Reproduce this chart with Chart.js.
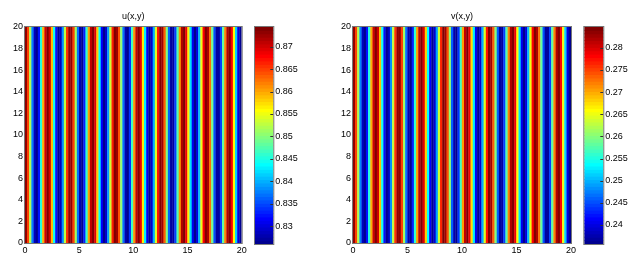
<!DOCTYPE html>
<html>
<head>
<meta charset="utf-8">
<script src="https://cdn.jsdelivr.net/npm/chart.js@4.4.1/dist/chart.umd.min.js"></script>
<style>
  body { margin: 0; background: #fff; width: 641px; height: 263px; overflow: hidden; position: relative; }
  .panel { position: absolute; top: 0; height: 263px; }
</style>
</head>
<body>
<div class="panel" style="left:0px;width:250px"><canvas id="uMap"></canvas></div>
<div class="panel" style="left:250px;width:70px"><canvas id="uBar"></canvas></div>
<div class="panel" style="left:328px;width:250px"><canvas id="vMap"></canvas></div>
<div class="panel" style="left:579px;width:62px"><canvas id="vBar"></canvas></div>
<script>
// x/y ticks of both maps
const xTicks = [0, 5, 10, 15, 20];
const yTicks = [0, 2, 4, 6, 8, 10, 12, 14, 16, 18, 20];

// u(x,y) per column (constant along y), 100 columns over 0..20
const uValues = [
  0.8733, 0.8653, 0.8519, 0.8380, 0.8283, 0.8263, 0.8326, 0.8451, 0.8593, 0.8704,
  0.8744, 0.8699, 0.8586, 0.8443, 0.8321, 0.8262, 0.8287, 0.8387, 0.8527, 0.8659,
  0.8736, 0.8731, 0.8646, 0.8511, 0.8373, 0.8280, 0.8265, 0.8331, 0.8459, 0.8601,
  0.8708, 0.8744, 0.8695, 0.8578, 0.8435, 0.8316, 0.8261, 0.8291, 0.8394, 0.8535,
  0.8665, 0.8737, 0.8728, 0.8639, 0.8503, 0.8366, 0.8277, 0.8266, 0.8337, 0.8467,
  0.8608, 0.8713, 0.8743, 0.8690, 0.8570, 0.8427, 0.8311, 0.8260, 0.8294, 0.8401,
  0.8543, 0.8671, 0.8739, 0.8725, 0.8633, 0.8495, 0.8359, 0.8274, 0.8268, 0.8344,
  0.8475, 0.8615, 0.8716, 0.8742, 0.8684, 0.8563, 0.8420, 0.8306, 0.8260, 0.8299,
  0.8409, 0.8551, 0.8677, 0.8741, 0.8721, 0.8626, 0.8487, 0.8353, 0.8271, 0.8270,
  0.8350, 0.8483, 0.8622, 0.8720, 0.8741, 0.8679, 0.8555, 0.8412, 0.8301, 0.8260
];

// v(x,y) per column
const vValues = [
  0.2836, 0.2754, 0.2619, 0.2478, 0.2381, 0.2360, 0.2424, 0.2550, 0.2695, 0.2807,
  0.2847, 0.2802, 0.2687, 0.2542, 0.2419, 0.2359, 0.2384, 0.2485, 0.2627, 0.2761,
  0.2838, 0.2834, 0.2748, 0.2611, 0.2471, 0.2377, 0.2362, 0.2429, 0.2558, 0.2702,
  0.2811, 0.2847, 0.2797, 0.2679, 0.2534, 0.2413, 0.2358, 0.2388, 0.2493, 0.2636,
  0.2767, 0.2840, 0.2831, 0.2741, 0.2603, 0.2464, 0.2374, 0.2363, 0.2435, 0.2566,
  0.2709, 0.2815, 0.2846, 0.2792, 0.2671, 0.2527, 0.2408, 0.2357, 0.2392, 0.2500,
  0.2644, 0.2773, 0.2842, 0.2828, 0.2734, 0.2595, 0.2458, 0.2371, 0.2365, 0.2442,
  0.2574, 0.2717, 0.2819, 0.2845, 0.2786, 0.2663, 0.2519, 0.2403, 0.2357, 0.2396,
  0.2508, 0.2652, 0.2779, 0.2844, 0.2824, 0.2727, 0.2586, 0.2451, 0.2369, 0.2368,
  0.2448, 0.2582, 0.2724, 0.2823, 0.2844, 0.2781, 0.2655, 0.2511, 0.2398, 0.2357
];

// colorbar limits and ticks
const uRange = [0.826, 0.8744];
const vRange = [0.2357, 0.2847];
const uTicks = [0.83, 0.835, 0.84, 0.845, 0.85, 0.855, 0.86, 0.865, 0.87];
const vTicks = [0.24, 0.245, 0.25, 0.255, 0.26, 0.265, 0.27, 0.275, 0.28];

const FONT = { family: "'Liberation Sans', Arial, sans-serif", size: 9, weight: 'normal', lineHeight: 1.2 };
const NCOLORS = 64;

// MATLAB style jet(64), i = 1..64
function jet(i) {
  const c = x => Math.round(255 * Math.max(0, Math.min(1, x)));
  const r = Math.min((i - 24) / 16, (72 - i) / 16);
  const g = Math.min((i - 8) / 16, (56 - i) / 16);
  const b = Math.min((i + 8) / 16, (40 - i) / 16);
  return `rgb(${c(r)},${c(g)},${c(b)})`;
}

function colorFor(v, range) {
  let idx = Math.floor((v - range[0]) / (range[1] - range[0]) * NCOLORS) + 1;
  idx = Math.max(1, Math.min(NCOLORS, idx));
  return jet(idx);
}

function fixedTicks(list) {
  return scale => { scale.ticks = list.map(v => ({ value: v })); };
}

// axes box
const framePlugin = {
  id: 'frame',
  afterDatasetsDraw(chart) {
    const { ctx, chartArea: a } = chart;
    ctx.save();
    ctx.strokeStyle = '#777';
    ctx.lineWidth = 1;
    ctx.strokeRect(a.left - 0.5, a.top - 0.5, a.right - a.left + 1, a.bottom - a.top + 1);
    ctx.restore();
  }
};

function heatmap(id, title, values, range, padRight) {
  const n = values.length;
  return new Chart(document.getElementById(id), {
    type: 'bar',
    data: {
      datasets: [{
        data: values.map((v, i) => ({ x: (i + 0.5) * 20 / n, y: [0, 20] })),
        backgroundColor: values.map(v => colorFor(v, range)),
        borderWidth: 0,
        barPercentage: 1.15,
        categoryPercentage: 1
      }]
    },
    options: {
      responsive: true,
      maintainAspectRatio: false,
      animation: false,
      events: [],
      layout: { padding: { left: 0, right: padRight, top: 0, bottom: 0 } },
      plugins: {
        legend: { display: false },
        tooltip: { enabled: false },
        title: { display: true, text: title, color: '#000', font: FONT, fullSize: false, padding: { top: 11.2, bottom: 5 } }
      },
      scales: {
        x: {
          type: 'linear', min: 0, max: 20, offset: false,
          grid: { display: false, drawTicks: false }, border: { display: false },
          ticks: { color: '#000', font: FONT, padding: 2, maxRotation: 0 },
          afterBuildTicks: fixedTicks(xTicks),
          afterFit: s => { s.height = 20; }
        },
        y: {
          type: 'linear', min: 0, max: 20,
          grid: { display: false, drawTicks: false }, border: { display: false },
          ticks: { color: '#000', font: FONT, padding: 2 },
          afterBuildTicks: fixedTicks(yTicks),
          afterFit: s => { s.width = 25; }
        }
      }
    },
    plugins: [framePlugin]
  });
}

const colorbarPlugin = {
  id: 'colorbar',
  beforeDatasetsDraw(chart, args, opts) {
    const { ctx, chartArea: a, scales } = chart;
    const [lo, hi] = opts.range;
    ctx.save();
    for (let i = 0; i < NCOLORS; i++) {
      const y0 = scales.y.getPixelForValue(lo + (hi - lo) * i / NCOLORS);
      const y1 = scales.y.getPixelForValue(lo + (hi - lo) * (i + 1) / NCOLORS);
      ctx.fillStyle = jet(i + 1);
      ctx.fillRect(a.left, y1 - 0.5, a.right - a.left, y0 - y1 + 1);
    }
    ctx.strokeStyle = '#333';
    ctx.beginPath();
    opts.ticks.forEach(t => {
      const py = Math.round(scales.y.getPixelForValue(t)) + 0.5;
      ctx.moveTo(a.right, py); ctx.lineTo(a.right - 3, py);
    });
    ctx.stroke();
    ctx.strokeStyle = '#777';
    ctx.strokeRect(a.left - 0.5, a.top - 0.5, a.right - a.left + 1, a.bottom - a.top + 1);
    ctx.restore();
  }
};

function colorbar(id, range, ticks, padLeft, barWidth, canvasWidth) {
  return new Chart(document.getElementById(id), {
    type: 'bar',
    data: { datasets: [] },
    options: {
      responsive: true,
      maintainAspectRatio: false,
      animation: false,
      events: [],
      layout: { padding: { left: padLeft, right: 0, top: 27, bottom: 19 } },
      plugins: {
        legend: { display: false },
        tooltip: { enabled: false },
        colorbar: { range, ticks }
      },
      scales: {
        x: { type: 'linear', display: false, min: 0, max: 1 },
        y: {
          type: 'linear', position: 'right', min: range[0], max: range[1],
          grid: { display: false, drawTicks: false }, border: { display: false },
          ticks: { color: '#000', font: FONT, padding: 2, callback: v => String(v) },
          afterBuildTicks: fixedTicks(ticks),
          afterFit: s => { s.width = canvasWidth - padLeft - barWidth; }
        }
      }
    },
    plugins: [colorbarPlugin]
  });
}

heatmap('uMap', 'u(x,y)', uValues, uRange, 8.3);
colorbar('uBar', uRange, uTicks, 5, 18.3, 70);
heatmap('vMap', 'v(x,y)', vValues, vRange, 6.3);
colorbar('vBar', vRange, vTicks, 5.3, 19, 62);
</script>
</body>
</html>
